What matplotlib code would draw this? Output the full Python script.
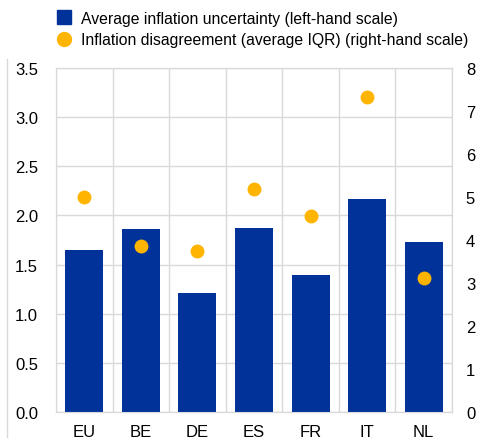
import numpy as np
import matplotlib.pyplot as plt
from matplotlib.lines import Line2D

plt.rcParams['font.family'] = ['Liberation Sans', 'DejaVu Sans']
plt.rcParams['font.size'] = 10

countries = ["EU", "BE", "DE", "ES", "FR", "IT", "NL"]
uncertainty = [1.65, 1.86, 1.21, 1.87, 1.39, 2.17, 1.73]
disagreement = [5.0, 3.86, 3.75, 5.18, 4.55, 7.32, 3.12]

blue = "#003299"
yellow = "#FFB400"
grid = "#d9d9d9"

fig = plt.figure(figsize=(4.85, 4.39), dpi=100)
ax = fig.add_axes([56/485, 26/439, 396/485, 344/439])
ax2 = ax.twinx()

x = np.arange(len(countries))
ax.bar(x, uncertainty, width=0.67, color=blue, zorder=3,
       label="Average inflation uncertainty (left-hand scale)")
ax2.scatter(x, disagreement, s=100, color=yellow, zorder=4, linewidths=0,
            label="Inflation disagreement (average IQR) (right-hand scale)")

ax.set_xlim(-0.5, len(countries) - 0.5)
ax.set_ylim(0, 3.5)
ax.set_yticks(np.arange(0, 3.51, 0.5))
ax.set_yticklabels([f"{v:.1f}" for v in np.arange(0, 3.51, 0.5)])
ax2.set_ylim(0, 8)
ax2.set_yticks(range(0, 9))

ax.set_xticks(x)
ax.set_xticklabels(countries)
ax.set_xticks(np.arange(-0.5, len(countries), 1), minor=True)
ax.grid(axis='y', color=grid, lw=1, zorder=0)
ax.grid(axis='x', which='minor', color=grid, lw=1, zorder=0)
ax.set_axisbelow(True)

for a in (ax, ax2):
    for s in a.spines.values():
        s.set_color(grid)
    a.tick_params(length=0, which='both', labelsize=12, colors='black')
ax.tick_params(axis='y', pad=13)
ax2.tick_params(axis='y', pad=10)
ax.tick_params(axis='x', pad=9)

handles = [Line2D([], [], marker='s', ls='', color=blue, markersize=10),
           Line2D([], [], marker='o', ls='', color=yellow, markersize=10)]
labels = ["Average inflation uncertainty (left-hand scale)",
          "Inflation disagreement (average IQR) (right-hand scale)"]
fig.legend(handles, labels, loc='upper left', bbox_to_anchor=(43/485, 1.0),
           frameon=False, fontsize=11.3, handletextpad=0.5, labelspacing=0.42,
           handlelength=1.2, borderaxespad=0.35)

fig.add_artist(Line2D([7/485, 7/485], [0, 1 - 60/439], color=grid, lw=1))

fig.savefig("out.png", dpi=100)
